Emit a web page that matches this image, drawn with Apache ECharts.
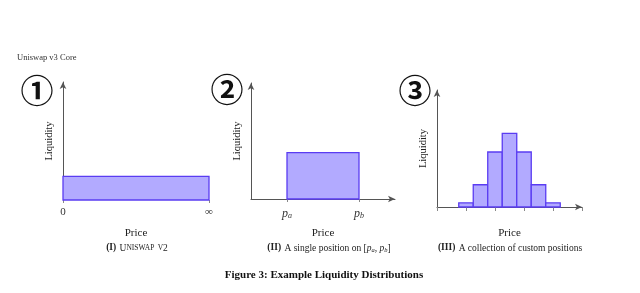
<!DOCTYPE html>
<html>
<head>
<meta charset="utf-8">
<script src="https://cdn.jsdelivr.net/npm/echarts@6/dist/echarts.min.js"></script>
<style>html,body{margin:0;padding:0;background:#fff;}#c{width:640px;height:293px;}</style>
</head>
<body>
<div id="c"></div>
<script>
// Panel I: Uniswap v2 — liquidity over the whole price range [0, ∞)
var p1Range = [0, 1];            // 0 .. ∞
var p1TickLabels = ['0', '∞'];
var p1Liquidity = 20;
// Panel II: a single position on [pa, pb]
var p2Range = [0, 4];
var p2Bounds = [1, 3];           // pa, pb
var p2TickLabels = ['{i|p}{s|a}', '{i|p}{s|b}'];
var p2Liquidity = 40;
// Panel III: collection of custom positions
var p3Range = [0, 10];
var p3Starts = [1.5, 2.5, 3.5, 4.5, 5.5, 6.5, 7.5];
var p3Ends   = [2.5, 3.5, 4.5, 5.5, 6.5, 7.5, 8.5];
var p3Liquidity = [3.5, 19, 47, 63, 47, 19, 3.5];
var yMax = 100;

var serif = 'Liberation Serif';
var fill = '#b2aaff', edge = '#5a3cf2', axisCol = '#555';

function renderRect(params, api) {
  var a = api.coord([api.value(0), api.value(2)]);
  var b = api.coord([api.value(1), 0]);
  return { type: 'rect', shape: { x: a[0], y: a[1], width: b[0] - a[0], height: b[1] - a[1] },
           style: { fill: fill, stroke: edge, lineWidth: 1.3 } };
}

var grids = [
  { left: 63, top: 82, width: 146, height: 118 },
  { left: 251, top: 83, width: 144, height: 116 },
  { left: 437, top: 90, width: 145, height: 117 }
];

function yAxis(i) {
  return {
    gridIndex: i, type: 'value', min: 0, max: yMax,
    name: 'Liquidity', nameLocation: 'middle', nameGap: 8, nameRotate: 90,
    nameTextStyle: { fontFamily: serif, fontSize: 10.5, color: '#222' },
    axisLine: { show: true, lineStyle: { color: axisCol, width: 1 }, symbol: ['none', 'arrow'], symbolSize: [5, 7] },
    axisTick: { show: false }, axisLabel: { show: false }, splitLine: { show: false }
  };
}
var nameStyle = { fontFamily: serif, fontSize: 11, color: '#222' };

var option = {
  animation: false,
  grid: grids,
  xAxis: [
    { gridIndex: 0, type: 'value', min: p1Range[0], max: p1Range[1], interval: 1,
      name: 'Price', nameLocation: 'middle', nameGap: 28, nameTextStyle: nameStyle,
      axisLine: { show: false }, axisTick: { show: true, length: 3, lineStyle: { color: '#888' } },
      axisLabel: { fontFamily: serif, fontSize: 11, color: '#333', margin: 7,
        formatter: function (v) { return v === p1Range[0] ? p1TickLabels[0] : p1TickLabels[1]; } },
      splitLine: { show: false } },
    { gridIndex: 1, type: 'value', min: p2Range[0], max: p2Range[1],
      name: 'Price', nameLocation: 'middle', nameGap: 29, nameTextStyle: nameStyle,
      axisLine: { show: true, lineStyle: { color: axisCol }, symbol: ['none', 'arrow'], symbolSize: [5, 7] },
      axisTick: { show: true, length: 3, customValues: p2Bounds, lineStyle: { color: '#888' } },
      axisLabel: { customValues: p2Bounds, margin: 8,
        formatter: function (v) { return v === p2Bounds[0] ? p2TickLabels[0] : p2TickLabels[1]; },
        rich: { i: { fontFamily: serif, fontStyle: 'italic', fontSize: 12, color: '#333' },
                s: { fontFamily: serif, fontStyle: 'italic', fontSize: 8, color: '#333', padding: [5, 0, 0, 0] } } },
      splitLine: { show: false } },
    { gridIndex: 2, type: 'value', min: p3Range[0], max: p3Range[1], interval: 2,
      name: 'Price', nameLocation: 'middle', nameGap: 21, nameTextStyle: nameStyle,
      axisLine: { show: true, lineStyle: { color: axisCol }, symbol: ['none', 'arrow'], symbolSize: [5, 7] },
      axisTick: { show: true, length: 4, inside: false, lineStyle: { color: '#888' } },
      axisLabel: { show: false }, splitLine: { show: false } }
  ],
  yAxis: [yAxis(0), yAxis(1), yAxis(2)],
  series: [
    { type: 'custom', xAxisIndex: 0, yAxisIndex: 0, renderItem: renderRect, encode: { x: [0, 1], y: 2 },
      data: [[p1Range[0], p1Range[1], p1Liquidity]] },
    { type: 'custom', xAxisIndex: 1, yAxisIndex: 1, renderItem: renderRect, encode: { x: [0, 1], y: 2 },
      data: [[p2Bounds[0], p2Bounds[1], p2Liquidity]] },
    { type: 'custom', xAxisIndex: 2, yAxisIndex: 2, renderItem: renderRect, encode: { x: [0, 1], y: 2 },
      data: p3Starts.map(function (s, i) { return [s, p3Ends[i], p3Liquidity[i]]; }) }
  ],
  graphic: [
    { type: 'text', left: 17, top: 53, style: { text: 'Uniswap v3 Core', fontFamily: serif, fontSize: 8.5, fill: '#333' } },
    { type: 'text', x: 37, y: 90, style: { text: '①', fontFamily: 'Noto Sans CJK SC', fontWeight: 'bold', fontSize: 33, fill: '#111', align: 'center', verticalAlign: 'middle' } },
    { type: 'text', x: 227, y: 89, style: { text: '②', fontFamily: 'Noto Sans CJK SC', fontWeight: 'bold', fontSize: 33, fill: '#111', align: 'center', verticalAlign: 'middle' } },
    { type: 'text', x: 415, y: 90, style: { text: '③', fontFamily: 'Noto Sans CJK SC', fontWeight: 'bold', fontSize: 33, fill: '#111', align: 'center', verticalAlign: 'middle' } },
    { type: 'text', x: 137, y: 248, style: { text: '{b|(I)} {n|U}{sc|NISWAP} {sc|V}{n|2}', align: 'center', verticalAlign: 'middle',
        rich: { b: { fontFamily: serif, fontWeight: 'bold', fontSize: 9.5, fill: '#222' },
                n: { fontFamily: serif, fontSize: 9.5, fill: '#222' },
                sc: { fontFamily: serif, fontSize: 7.5, fill: '#222' } } } },
    { type: 'text', x: 329, y: 248, style: { text: '{b|(II)} {n|A single position on [}{i|p}{s|a}{n|, }{i|p}{s|b}{n|]}', align: 'center', verticalAlign: 'middle',
        rich: { b: { fontFamily: serif, fontWeight: 'bold', fontSize: 9.5, fill: '#222' },
                n: { fontFamily: serif, fontSize: 9.5, fill: '#222' },
                i: { fontFamily: serif, fontStyle: 'italic', fontSize: 9.5, fill: '#222' },
                s: { fontFamily: serif, fontStyle: 'italic', fontSize: 6.5, fill: '#222', padding: [4, 0, 0, 0] } } } },
    { type: 'text', x: 510, y: 248, style: { text: '{b|(III)} {n|A collection of custom positions}', align: 'center', verticalAlign: 'middle',
        rich: { b: { fontFamily: serif, fontWeight: 'bold', fontSize: 9.5, fill: '#222' },
                n: { fontFamily: serif, fontSize: 9.5, fill: '#222' } } } },
    { type: 'text', x: 324, y: 275, style: { text: 'Figure 3: Example Liquidity Distributions', fontFamily: serif, fontWeight: 'bold', fontSize: 11, fill: '#111', align: 'center', verticalAlign: 'middle' } }
  ]
};
var chart = echarts.init(document.getElementById('c'), null, { renderer: 'canvas' });
chart.setOption(option);
</script>
</body>
</html>
